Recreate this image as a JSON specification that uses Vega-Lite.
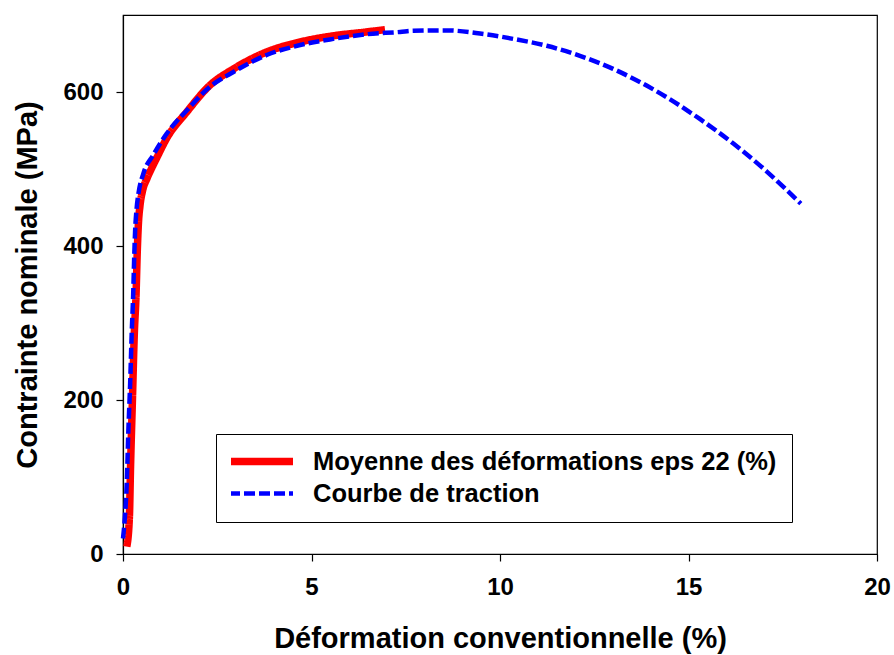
{
  "$schema": "https://vega.github.io/schema/vega-lite/v6.json",
  "width": 754,
  "height": 539,
  "autosize": {"type": "none"},
  "padding": {"left": 123, "top": 15, "right": 17, "bottom": 101},
  "background": "white",
  "config": {
    "view": {"stroke": "black", "strokeWidth": 1.2},
    "font": "Liberation Sans",
    "axis": {
      "labelFont": "Liberation Sans", "labelFontWeight": "bold", "labelFontSize": 24, "labelColor": "black",
      "titleFont": "Liberation Sans", "titleFontWeight": "bold", "titleFontSize": 29, "titleColor": "black",
      "domainColor": "black", "tickColor": "black", "tickSize": 7, "tickWidth": 1.2, "domainWidth": 1.2,
      "grid": false
    },
    "legend": {
      "orient": "none", "legendX": 93, "legendY": 419,
      "strokeColor": "black", "padding": 15, "fillColor": "white",
      "symbolType": "stroke", "symbolSize": 4096, "symbolOffset": -6, "labelOffset": 16, "clipHeight": 25,
      "labelFont": "Liberation Sans", "labelFontWeight": "bold", "labelFontSize": 25.5, "labelColor": "black",
      "rowPadding": 6, "labelLimit": 600
    }
  },
  "data": {
    "values": [
      {"serie": "Moyenne des déformations eps 22 (%)", "x": 0.10, "y": 9.5},
      {"serie": "Moyenne des déformations eps 22 (%)", "x": 0.17, "y": 48},
      {"serie": "Moyenne des déformations eps 22 (%)", "x": 0.20, "y": 113},
      {"serie": "Moyenne des déformations eps 22 (%)", "x": 0.25, "y": 200},
      {"serie": "Moyenne des déformations eps 22 (%)", "x": 0.30, "y": 286},
      {"serie": "Moyenne des déformations eps 22 (%)", "x": 0.345, "y": 335},
      {"serie": "Moyenne des déformations eps 22 (%)", "x": 0.38, "y": 395},
      {"serie": "Moyenne des déformations eps 22 (%)", "x": 0.41, "y": 430},
      {"serie": "Moyenne des déformations eps 22 (%)", "x": 0.45, "y": 452},
      {"serie": "Moyenne des déformations eps 22 (%)", "x": 0.52, "y": 472},
      {"serie": "Moyenne des déformations eps 22 (%)", "x": 0.63, "y": 487},
      {"serie": "Moyenne des déformations eps 22 (%)", "x": 0.75, "y": 500},
      {"serie": "Moyenne des déformations eps 22 (%)", "x": 0.89, "y": 514},
      {"serie": "Moyenne des déformations eps 22 (%)", "x": 1.16, "y": 540},
      {"serie": "Moyenne des déformations eps 22 (%)", "x": 1.69, "y": 574},
      {"serie": "Moyenne des déformations eps 22 (%)", "x": 2.31, "y": 609},
      {"serie": "Moyenne des déformations eps 22 (%)", "x": 2.93, "y": 630},
      {"serie": "Moyenne des déformations eps 22 (%)", "x": 3.81, "y": 652},
      {"serie": "Moyenne des déformations eps 22 (%)", "x": 4.70, "y": 665},
      {"serie": "Moyenne des déformations eps 22 (%)", "x": 5.58, "y": 673},
      {"serie": "Moyenne des déformations eps 22 (%)", "x": 6.46, "y": 678},
      {"serie": "Moyenne des déformations eps 22 (%)", "x": 6.95, "y": 681},
      {"serie": "Courbe de traction", "x": 0.00, "y": 20},
      {"serie": "Courbe de traction", "x": 0.05, "y": 48},
      {"serie": "Courbe de traction", "x": 0.10, "y": 92},
      {"serie": "Courbe de traction", "x": 0.14, "y": 157},
      {"serie": "Courbe de traction", "x": 0.19, "y": 222},
      {"serie": "Courbe de traction", "x": 0.23, "y": 286},
      {"serie": "Courbe de traction", "x": 0.27, "y": 337},
      {"serie": "Courbe de traction", "x": 0.30, "y": 390},
      {"serie": "Courbe de traction", "x": 0.32, "y": 418},
      {"serie": "Courbe de traction", "x": 0.36, "y": 448},
      {"serie": "Courbe de traction", "x": 0.41, "y": 468},
      {"serie": "Courbe de traction", "x": 0.54, "y": 494},
      {"serie": "Courbe de traction", "x": 0.80, "y": 518},
      {"serie": "Courbe de traction", "x": 1.16, "y": 546},
      {"serie": "Courbe de traction", "x": 1.69, "y": 576},
      {"serie": "Courbe de traction", "x": 2.31, "y": 607},
      {"serie": "Courbe de traction", "x": 2.93, "y": 626},
      {"serie": "Courbe de traction", "x": 3.81, "y": 648},
      {"serie": "Courbe de traction", "x": 4.70, "y": 661},
      {"serie": "Courbe de traction", "x": 5.58, "y": 669},
      {"serie": "Courbe de traction", "x": 6.46, "y": 675},
      {"serie": "Courbe de traction", "x": 7.35, "y": 678},
      {"serie": "Courbe de traction", "x": 7.70, "y": 679.5},
      {"serie": "Courbe de traction", "x": 8.58, "y": 680},
      {"serie": "Courbe de traction", "x": 9.47, "y": 676},
      {"serie": "Courbe de traction", "x": 10.35, "y": 669},
      {"serie": "Courbe de traction", "x": 11.24, "y": 660},
      {"serie": "Courbe de traction", "x": 12.12, "y": 647},
      {"serie": "Courbe de traction", "x": 13.0, "y": 630},
      {"serie": "Courbe de traction", "x": 13.9, "y": 608},
      {"serie": "Courbe de traction", "x": 15.3, "y": 565},
      {"serie": "Courbe de traction", "x": 16.19, "y": 533},
      {"serie": "Courbe de traction", "x": 17.07, "y": 497},
      {"serie": "Courbe de traction", "x": 17.98, "y": 455}
    ]
  },
  "mark": {"type": "line", "strokeCap": "butt", "strokeJoin": "round", "interpolate": "monotone"},
  "encoding": {
    "x": {
      "field": "x", "type": "quantitative",
      "scale": {"domain": [0, 20], "nice": false, "zero": false},
      "axis": {"values": [0, 5, 10, 15, 20], "labelPadding": 14, "titlePadding": 25, "title": "Déformation conventionnelle (%)", "labelFlush": false}
    },
    "y": {
      "field": "y", "type": "quantitative",
      "scale": {"domain": [0, 700], "nice": false},
      "axis": {"values": [0, 200, 400, 600], "labelPadding": 13, "titlePadding": 20, "title": "Contrainte nominale (MPa)", "labelFlush": false}
    },
    "color": {
      "field": "serie", "type": "nominal",
      "scale": {"domain": ["Moyenne des déformations eps 22 (%)", "Courbe de traction"], "range": ["#FF0000", "#0000FF"]},
      "legend": {"title": null}
    },
    "strokeDash": {
      "field": "serie", "type": "nominal",
      "scale": {"domain": ["Moyenne des déformations eps 22 (%)", "Courbe de traction"], "range": [[1, 0], [11, 4]]},
      "legend": {"title": null}
    },
    "strokeWidth": {
      "field": "serie", "type": "ordinal",
      "scale": {"domain": ["Moyenne des déformations eps 22 (%)", "Courbe de traction"], "range": [7.5, 4.5]},
      "legend": {"title": null}
    }
  }
}
